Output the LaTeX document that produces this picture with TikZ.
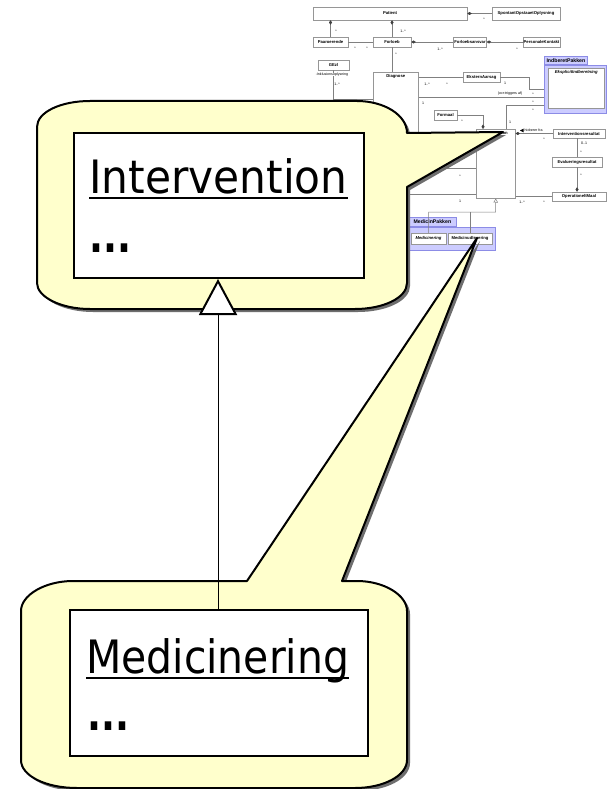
\documentclass[tikz,border=0pt]{standalone}
\usepackage{fontspec}
\usepackage{graphicx}
\setmainfont{Liberation Sans}
\newfontfamily\calloutfont{DejaVu Sans}
\usetikzlibrary{arrows.meta}

\definecolor{noteyellow}{RGB}{255,255,204}
\definecolor{noteshadow}{RGB}{110,110,110}
\definecolor{pkgfill}{RGB}{204,204,255}
\definecolor{pkgline}{RGB}{140,140,230}
\definecolor{umlline}{RGB}{128,128,128}
\definecolor{umlbox}{RGB}{150,150,150}

\tikzset{
  cls/.style={draw=umlbox, line width=0.5pt, fill=white, inner sep=0pt,
    font=\fontsize{4.2}{4.5}\selectfont\bfseries},
  clsname/.style={inner sep=0pt, anchor=north, font=\fontsize{4.2}{4.5}\selectfont\bfseries},
  absname/.style={inner sep=0pt, anchor=north, font=\fontsize{4.2}{4.5}\selectfont\bfseries\itshape},
  pkgtab/.style={draw=pkgline, fill=pkgfill, line width=0.8pt, inner sep=0pt,
    font=\fontsize{5.2}{5.5}\selectfont\bfseries, anchor=south west},
  pkgbody/.style={draw=pkgline, fill=pkgfill, line width=0.8pt, inner sep=0pt, anchor=north west},
  mult/.style={inner sep=0pt, font=\fontsize{3.6}{4}\selectfont},
  assoc/.style={draw=umlline, line width=0.5pt},
  comp/.style={assoc, {Diamond[length=4.5pt,width=3pt,color=black!75]}-},
  compend/.style={assoc, -{Diamond[length=4.5pt,width=3pt,color=black!75]}},
  umlgen/.style={assoc, -{Triangle[open,length=4pt,width=4.5pt]}},
  note/.style={fill=noteyellow, draw=black, line width=2pt, line join=round},
  noteshade/.style={fill=noteshadow},
  bigbox/.style={draw=black, fill=white, line width=2pt, inner sep=0pt, anchor=north west},
  bigtext/.style={inner sep=0pt, anchor=base west, font=\calloutfont\fontsize{46}{50}\selectfont},
  bigdots/.style={inner sep=0pt, anchor=base west, font=\calloutfont\bfseries\fontsize{46}{50}\selectfont},
  biggen/.style={draw=black, line width=1pt,
    -{Triangle[length=36pt,width=38pt,fill=white,line width=2pt]}},
}

% callout bubble pointing at the Intervention class
\newcommand\calloutInterv[1]{%
  \path[#1] (90,101) -- (357,101) .. controls (384,101) and (407,115) .. (407,133)
    -- (503,132) -- (407,187) -- (407,283)
    .. controls (407,298) and (383,309) .. (355,309) -- (90,309)
    .. controls (61,309) and (37,297) .. (37,283) -- (37,127)
    .. controls (37,112) and (61,101) .. (90,101) -- cycle;}
% callout bubble pointing at the dispensing class
\newcommand\calloutMedic[1]{%
  \path[#1] (73,581) -- (247,581) -- (477,238) -- (342,581) -- (357,581)
    .. controls (384,581) and (407,595) .. (407,611) -- (407,760)
    .. controls (407,776) and (383,788) .. (355,788) -- (77,788)
    .. controls (46,788) and (21,776) .. (21,760) -- (21,611)
    .. controls (21,595) and (45,581) .. (73,581) -- cycle;}

\begin{document}
\begin{tikzpicture}[x=1pt,y=-1pt]
\useasboundingbox (0,0) rectangle (607,789);
\fill[white] (0,0) rectangle (607,789);

% ---------------- class model ----------------
\node[cls, minimum width=154pt, minimum height=13pt] (patient) at (390,13.5) {Patient};
\node[cls, minimum width=68pt, minimum height=13pt] (spont) at (526,13.5) {SpontantOpstaaetOplysning};
\node[cls, minimum width=35pt, minimum height=10pt] (paar) at (330.5,42) {Paaroerende};
\node[cls, minimum width=38pt, minimum height=10pt] (forl) at (392,42) {Forloeb};
\node[cls, minimum width=33pt, minimum height=10pt] (fansv) at (470,42) {Forloebsansvar};
\node[cls, minimum width=37pt, minimum height=10pt] (perk) at (541.5,42) {PersonaleKontakt};
\node[cls, minimum width=31pt, minimum height=10pt] (gezl) at (333.5,65) {GEzl};
\node[cls, minimum width=45pt, minimum height=98pt, anchor=north west] (diag) at (373,72) {};
\node[clsname] (diagname) at ([yshift=-2.5pt]diag.north) {Diagnose};
\node[cls, minimum width=37pt, minimum height=10pt] (ekst) at (481.5,77) {EksternAarsag};
\node[cls, minimum width=23pt, minimum height=10pt] (formaal) at (445.5,115) {Formaal};
\node[cls, minimum width=39pt, minimum height=69pt, anchor=north west] (interv) at (476,129) {};
\node[clsname] (intervname) at ([yshift=-2.5pt]interv.north) {Intervention};
\node[cls, minimum width=52pt, minimum height=9pt] (iresult) at (579,133.5) {Interventionsresultat};
\node[cls, minimum width=50pt, minimum height=10pt] (evalres) at (577,162) {Evalueringsresultat};
\node[cls, minimum width=54pt, minimum height=9pt] (opmaal) at (579,196.5) {OperationeltMaal};

% reporting package
\node[pkgbody, minimum width=62pt, minimum height=48pt] (indpkg) at (544,65) {};
\node[pkgtab, minimum width=43pt, minimum height=8pt] (indtab) at (544,65) {IndberetPakken};
\node[cls, minimum width=56pt, minimum height=40pt, anchor=north west] (eksp) at (548,68) {};
\node[absname] (ekspname) at ([yshift=-2.5pt]eksp.north) {EksplicitIndberetning};

% medication package
\node[pkgbody, minimum width=87pt, minimum height=23pt] (medpkg) at (408,227) {};
\node[pkgtab, minimum width=48pt, minimum height=9pt] (medtab) at (408,227) {MedicinPakken};
\node[cls, minimum width=35pt, minimum height=11pt, font=\fontsize{4.2}{4.5}\selectfont\bfseries\itshape] (medic) at (428.5,238.5) {Medicinering};
\node[cls, minimum width=44pt, minimum height=11pt] (madm) at (470,238.5) {Medicinudlevering};

% associations
\draw[comp] (patient.east) -- (spont.west);
\draw[comp] (patient.south -| paar.north) -- (paar.north);
\draw[comp] (patient.south -| forl.north) -- (forl.north);
\draw[assoc] (paar.east) -- (forl.west);
\draw[comp] (forl.east) -- (fansv.west);
\draw[comp] (fansv.east) -- (perk.west);
\draw[assoc] (forl.south) -- (forl.south |- diag.north);
\draw[assoc] (gezl.south) |- ([yshift=-27pt]diag.north west);
\draw[assoc] (diag.north east |- ekst.west) -- (ekst.west);
\draw[assoc] (ekst.east) -- ++(29,0) |- ([yshift=-24pt]indpkg.north west);
\draw[assoc] ([yshift=-25pt]diag.north east) -- ([yshift=-32pt]indpkg.north west);
\draw[assoc] ([xshift=30pt]interv.north west) |- ([yshift=-40pt]indpkg.north west);
\draw[compend] (formaal.east) -| ([xshift=7pt]interv.north west);
\draw[comp] (interv.east |- iresult.west) -- (iresult.west);
\draw[assoc] (evalres.north |- iresult.south) -- (evalres.north);
\draw[compend] (evalres.south) -- (evalres.south |- opmaal.north);
\draw[assoc] (interv.east |- opmaal.west) -- (opmaal.west);
\draw[assoc] ([yshift=2pt]diag.south east) -- ([yshift=2pt]diag.south east -| interv.west);
\coordinate (lowleft) at (380,194);
\draw[assoc] (lowleft) -- (lowleft -| interv.west);
\coordinate (gj) at (495.5,212);
\draw[umlgen] (medic.north) |- (gj) -- (interv.south);
\draw[assoc] (madm.north) -- (madm.north |- gj);

% role names and multiplicities
\node[mult, fill=white, inner sep=0.3pt] (role1) at (332,74.5) {-Inklusionsoplysning};
\node[mult] (m1) at (484,19.5) {*};
\node[mult] (m2) at (336,31) {*};
\node[mult] (m3) at (403,31) {1..*};
\node[mult] (m4) at (355,48.5) {*};
\node[mult] (m5) at (367,48.5) {*};
\node[mult] (m6) at (440,49.5) {1..*};
\node[mult] (m7) at (517,49.5) {*};
\node[mult] (m8) at (396,54) {*};
\node[mult] (m9) at (337,84) {1..*};
\node[mult] (m10) at (427,84) {1..*};
\node[mult] (m11) at (447,84) {*};
\node[mult] (m12) at (505,83) {1};
\node[mult] (ocr) at (510,94) {(ocr:triggers af)};
\node[mult] (m13) at (533,94) {*};
\node[mult] (m14) at (533,102) {*};
\node[mult] (m15) at (533,110) {*};
\node[mult] (m16) at (423,103) {1};
\node[mult] (m17) at (462,121) {*};
\node[mult] (m18) at (510,122) {1};
\node[mult, anchor=west] (hid) at (524.5,130.5) {hidrører fra};
\fill[black] (520,130.5) -- (523.5,128.7) -- (523.5,132.3) -- cycle;
\node[mult] (m19) at (544,139.5) {*};
\node[mult] (m20) at (584,143) {0..1};
\node[mult] (m21) at (581,152) {*};
\node[mult] (m22) at (581,175) {*};
\node[mult] (m23) at (460,176) {*};
\node[mult] (m24) at (460,201.5) {1};
\node[mult] (m25) at (522,202) {1..*};
\node[mult] (m26) at (544,202) {*};

% ---------------- callouts ----------------
\calloutInterv{noteshade, shift={(3,3)}}
\calloutInterv{note}
\calloutMedic{noteshade, shift={(3,3)}}
\calloutMedic{note}

\node[bigbox, minimum width=290pt, minimum height=145pt] (intbox) at (73,132) {};
\node[bigtext] (intname) at (89,193) {\scalebox{0.92}[1]{Intervention}};
\draw[line width=2pt] ([yshift=-5pt]intname.base west) -- ([yshift=-5pt]intname.base east);
\node[bigdots] (intdots) at (89,252) {\scalebox{0.8}[1]{...}};

\node[bigbox, minimum width=298pt, minimum height=146pt] (medbox) at (69,609) {};
\node[bigtext] (medname) at (86,673) {\scalebox{0.89}[1]{Medicinering}};
\draw[line width=2pt] ([yshift=-4.5pt]medname.base west) -- ([yshift=-4.5pt]medname.base east);
\node[bigdots] (meddots) at (87,730) {\scalebox{0.8}[1]{...}};

\coordinate (gx) at (218,0);
\draw[biggen] (medbox.north -| gx) -- (intbox.south -| gx);
\end{tikzpicture}
\end{document}
